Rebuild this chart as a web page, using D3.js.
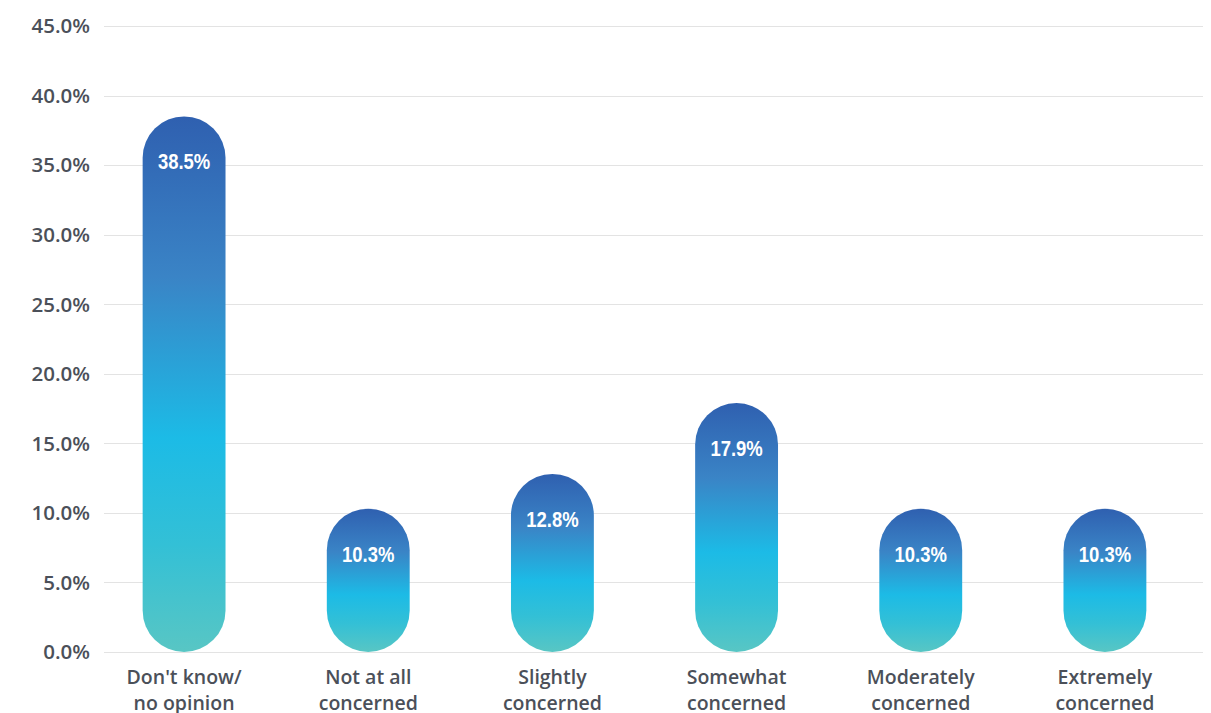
<!DOCTYPE html>
<html>
<head>
<meta charset="utf-8">
<script src="https://cdn.jsdelivr.net/npm/d3@7"></script>
<style>
  html, body { margin: 0; padding: 0; background: #ffffff; }
  svg { display: block; }
</style>
</head>
<body>
<svg id="chart" width="1211" height="713"></svg>
<script>
// Survey responses: level of concern
const categories = [
  ["Don't know/", "no opinion"],
  ["Not at all", "concerned"],
  ["Slightly", "concerned"],
  ["Somewhat", "concerned"],
  ["Moderately", "concerned"],
  ["Extremely", "concerned"]
];
const values = [38.5, 10.3, 12.8, 17.9, 10.3, 10.3];
const yTicks = [0, 5, 10, 15, 20, 25, 30, 35, 40, 45];

const svg = d3.select("#chart");

const x = d3.scaleBand()
  .domain(d3.range(values.length))
  .range([92, 1197])
  .paddingInner(0.55)
  .paddingOuter(0.275);

const y = d3.scaleLinear().domain([0, 45]).range([652, 26]);

// Gradient shared by every bar (per-bar bounding box)
const defs = svg.append("defs");
const grad = defs.append("linearGradient")
  .attr("id", "barGrad")
  .attr("x1", 0).attr("y1", 0).attr("x2", 0).attr("y2", 1);
[
  [0, "#2f60b0"],
  [0.3, "#3a84c6"],
  [0.6, "#1cbbe6"],
  [0.8, "#33c0d6"],
  [1, "#58c6c4"]
].forEach(([o, c]) => grad.append("stop").attr("offset", o).attr("stop-color", c));

// Grid lines
svg.append("g")
  .selectAll("line")
  .data(yTicks)
  .join("line")
  .attr("x1", 104).attr("x2", 1203)
  .attr("y1", d => Math.round(y(d)) + 0.5)
  .attr("y2", d => Math.round(y(d)) + 0.5)
  .attr("stroke", "#e3e3e3")
  .attr("stroke-width", 1);

// Y axis labels
svg.append("g")
  .selectAll("text")
  .data(yTicks)
  .join("text")
  .attr("x", 90)
  .attr("y", d => y(d))
  .attr("dy", "0.36em")
  .attr("text-anchor", "end")
  .attr("font-family", "'Open Sans', 'Noto Sans', sans-serif")
  .attr("font-weight", 600)
  .attr("font-size", 20.5)
  .attr("fill", "#4b5059")
  .text(d => d.toFixed(1) + "%");

// Bars: fully rounded pills from the baseline to the value
const bw = x.bandwidth();
svg.append("g")
  .selectAll("rect")
  .data(values)
  .join("rect")
  .attr("x", (d, i) => x(i))
  .attr("y", d => y(d))
  .attr("width", bw)
  .attr("height", d => y(0) - y(d))
  .attr("rx", bw / 2)
  .attr("ry", bw / 2)
  .attr("fill", "url(#barGrad)");

// Value labels inside bar tops (horizontally condensed)
svg.append("g")
  .selectAll("text")
  .data(values)
  .join("text")
  .attr("transform", (d, i) => `translate(${x(i) + bw / 2},${y(d) + 53}) scale(0.84,1)`)
  .attr("text-anchor", "middle")
  .attr("font-family", "'Liberation Sans', 'Roboto', sans-serif")
  .attr("font-weight", "bold")
  .attr("font-size", 22)
  .attr("fill", "#ffffff")
  .text(d => d.toFixed(1) + "%");

// Category labels, two lines each
const cat = svg.append("g")
  .selectAll("text")
  .data(categories)
  .join("text")
  .attr("text-anchor", "middle")
  .attr("font-family", "'Open Sans', 'Noto Sans', sans-serif")
  .attr("font-weight", 600)
  .attr("font-size", 19.5)
  .attr("fill", "#4b5059");
cat.each(function(lines, i) {
  const t = d3.select(this);
  lines.forEach((line, j) => {
    t.append("tspan")
      .attr("x", x(i) + bw / 2)
      .attr("y", 684 + j * 26)
      .text(line);
  });
});
</script>
</body>
</html>
